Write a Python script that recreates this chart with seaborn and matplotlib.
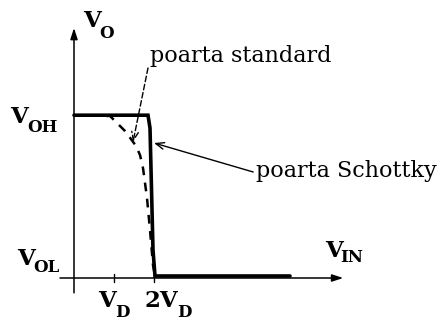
import matplotlib
matplotlib.use("Agg")
import matplotlib.pyplot as plt
import numpy as np
import pandas as pd
import seaborn as sns

# Transfer characteristic V_O(V_IN), input in units of V_D
V_OH = 4.07
V_OL = 0.05

schottky_vin = [0.0, 1.85, 1.90, 1.975, 2.025, 5.40]
schottky_vo = [V_OH, V_OH, 3.75, 0.70, V_OL, V_OL]

standard_vin = [0.0, 0.90, 1.10, 1.275, 1.425, 1.55, 1.65, 1.725, 1.775, 1.825, 1.90, 1.975, 2.025]
standard_vo = [V_OH, 4.05, 3.85, 3.675, 3.475, 3.30, 3.075, 2.75, 2.375, 2.00, 1.20, 0.325, V_OL]

tick_pos = [1.0, 2.0]
tick_prefix = ["", "2"]

sns.set_theme(style="white")
plt.rcParams["font.family"] = ["DejaVu Serif"]
plt.rcParams["text.color"] = "black"

fig = plt.figure(figsize=(4.43, 3.20), dpi=100)
ax = fig.add_axes([0, 0, 1, 1])
ax.set_xlim(-1.85, 9.225)
ax.set_ylim(-1.05, 6.95)
ax.axis("off")

df_std = pd.DataFrame({"vin": standard_vin, "vo": standard_vo})
df_sch = pd.DataFrame({"vin": schottky_vin, "vo": schottky_vo})

sns.lineplot(data=df_std, x="vin", y="vo", ax=ax, color="black", lw=1.8,
             sort=False, estimator=None)
ax.lines[-1].set_dashes([3.5, 3.0])
sns.lineplot(data=df_sch, x="vin", y="vo", ax=ax, color="black", lw=2.6,
             sort=False, estimator=None)
ax.lines[-1].set_solid_joinstyle("miter")

# axes with arrow heads
arrow_kw = dict(arrowstyle="-|>,head_length=0.55,head_width=0.18", color="black", lw=1.1,
                shrinkA=0, shrinkB=0)
ax.annotate("", xy=(0, 6.25), xytext=(0, -0.37), arrowprops=arrow_kw)
ax.annotate("", xy=(6.73, 0), xytext=(-0.35, 0), arrowprops=arrow_kw)

for t in tick_pos:
    ax.plot([t, t], [-0.1, 0.1], color="black", lw=1.0)

BIG = 16.5
SUB = 12.0


def vlabel(x, y, sub, dx, dy, prefix=""):
    ax.text(x, y, prefix + "V", fontsize=BIG, fontweight="bold", color="black",
            ha="left", va="baseline")
    ax.text(x + dx, y - dy, sub, fontsize=SUB, fontweight="bold", color="black",
            ha="left", va="baseline")


vlabel(0.225, 6.275, "O", 0.40, 0.28)
vlabel(-1.60, 3.875, "OH", 0.42, 0.23)
vlabel(-1.425, 0.325, "OL", 0.40, 0.18)
vlabel(6.275, 0.525, "IN", 0.375, 0.13)
vlabel(tick_pos[0] - 0.40, -0.725, "D", 0.42, 0.25, tick_prefix[0])
vlabel(tick_pos[1] - 0.225, -0.725, "D", 0.80, 0.25, tick_prefix[1])

# curve callouts
ax.annotate("", xy=(1.475, 3.40), xytext=(1.85, 5.25),
            arrowprops=dict(arrowstyle="->,head_length=0.5,head_width=0.2", color="black",
                            lw=1.0, ls=(0, (4, 2)), shrinkA=0, shrinkB=0))
ax.text(1.90, 5.40, "poarta standard", fontsize=16, color="black", ha="left", va="baseline")

ax.annotate("", xy=(2.00, 3.375), xytext=(4.48, 2.65),
            arrowprops=dict(arrowstyle="->,head_length=0.5,head_width=0.2", color="black",
                            lw=1.0, shrinkA=0, shrinkB=0))
ax.text(4.55, 2.52, "poarta Schottky", fontsize=16, color="black", ha="left", va="baseline")

fig.savefig("out.png", dpi=100)
